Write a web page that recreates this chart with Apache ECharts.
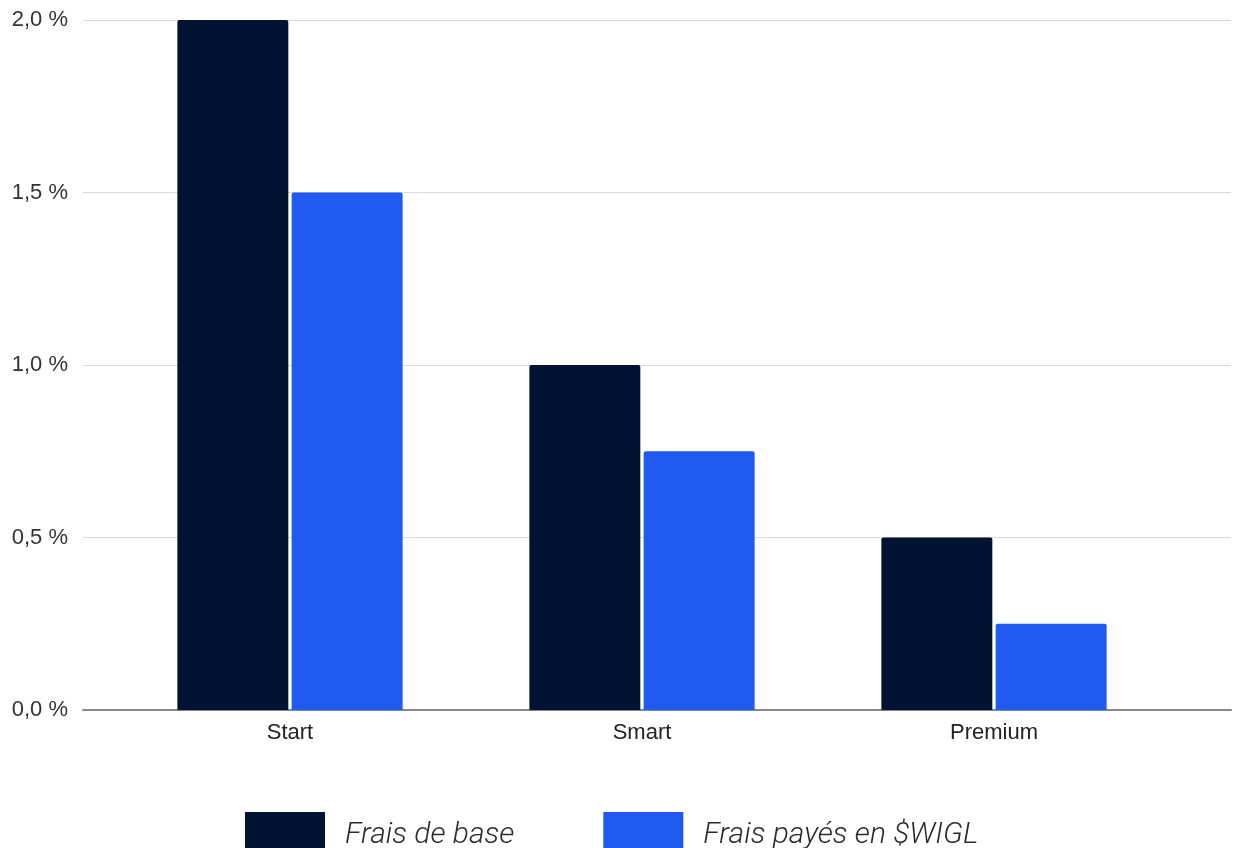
<!DOCTYPE html>
<html><head><meta charset="utf-8">
<script src="https://cdn.jsdelivr.net/npm/echarts@6/dist/echarts.min.js"></script>
<style>html,body{margin:0;padding:0;background:#fff}#c{width:1234px;height:848px}</style>
</head><body><div id="c"></div>
<script>
const categories = ['Start', 'Smart', 'Premium'];
const seriesNames = ['Frais de base', 'Frais payés en $WIGL'];
const baseFees = [2.0, 1.0, 0.5];
const wiglFees = [1.5, 0.75, 0.25];
const yTicks = [0, 0.5, 1.0, 1.5, 2.0];

const chart = echarts.init(document.getElementById('c'));
const fmt = v => v.toFixed(1).replace('.', ',') + ' %';
chart.setOption({
  backgroundColor: '#ffffff',
  animation: false,
  grid: [
    {left: 83, right: 3, top: 20, bottom: 138},
    {left: 114, right: 64, top: 20, bottom: 138}
  ],
  legend: {
    left: 240, top: 807,
    itemWidth: 80, itemHeight: 46, itemGap: 89,
    icon: 'rect',
    textStyle: {fontFamily: 'Roboto', fontStyle: 'italic', fontWeight: 300, fontSize: 30, color: '#2a2a35', padding: [0,0,0,15]},
    data: seriesNames
  },
  xAxis: [
    {type: 'value', gridIndex: 0, min: 0, max: 1, show: true,
     axisLine: {show: true, lineStyle: {color: '#8a8a8a', width: 2}},
     axisTick: {show: false}, axisLabel: {show: false}, splitLine: {show: false}},
    {type: 'category', gridIndex: 1, data: categories,
     axisLine: {show: false}, axisTick: {show: false},
     axisLabel: {fontFamily: 'Liberation Sans, Arial', fontSize: 22, color: '#222', margin: 12}}
  ],
  yAxis: [
    {type: 'value', gridIndex: 0, min: 0, max: 2, interval: 0.5,
     axisLine: {show: false}, axisTick: {show: false},
     axisLabel: {formatter: fmt, fontFamily: 'Liberation Sans, Arial', fontSize: 22, color: '#333', margin: 15},
     splitLine: {lineStyle: {color: '#d9d9d9', width: 1}}},
    {type: 'value', gridIndex: 1, min: 0, max: 2, interval: 0.5, show: false}
  ],
  series: [
    {name: seriesNames[0], type: 'bar', xAxisIndex: 1, yAxisIndex: 1, data: baseFees,
     barGap: '3%', barCategoryGap: '36%',
     itemStyle: {color: '#021233', borderRadius: [2,2,0,0]}},
    {name: seriesNames[1], type: 'bar', xAxisIndex: 1, yAxisIndex: 1, data: wiglFees,
     barGap: '3%', barCategoryGap: '36%',
     itemStyle: {color: '#1f5bf0', borderRadius: [2,2,0,0]}}
  ]
});
</script></body></html>
